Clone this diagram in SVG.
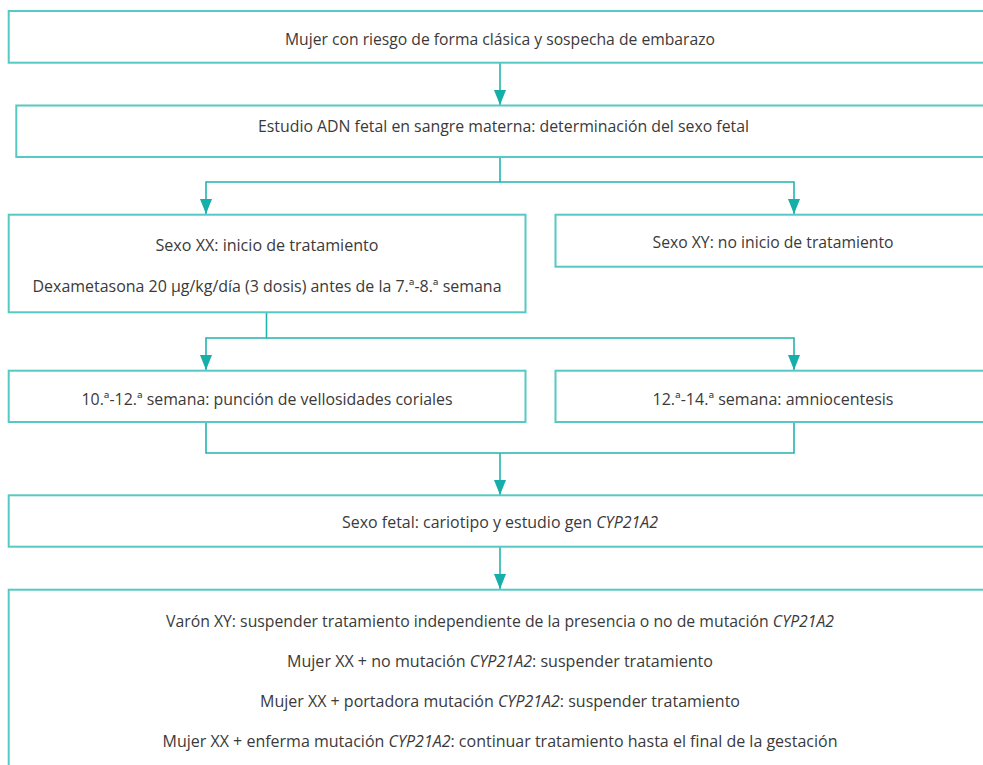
<svg xmlns="http://www.w3.org/2000/svg" width="983" height="765" viewBox="0 0 983 765">
<style>
.box{fill:#ffffff;stroke:#55c9c4;stroke-width:2}
.conn{fill:none;stroke:#22b5af;stroke-width:1.6}
.t{font-family:"Liberation Sans Narrow","Open Sans",sans-serif;font-size:16px;fill:#3a3a3a;text-anchor:middle}
.i{font-style:italic}
</style>
<defs>
<marker id="ah" markerUnits="userSpaceOnUse" markerWidth="15" markerHeight="12" refX="15" refY="6" orient="auto">
<path d="M0,0 L15,6 L0,12 z" fill="#16aea8"/>
</marker>
</defs>
<rect width="983" height="765" fill="#ffffff"/>
<g id="connectors">
<path class="conn" d="M500,62.7 V105" marker-end="url(#ah)"/>
<path class="conn" d="M500,157 V182 H206 V214" marker-end="url(#ah)"/>
<path class="conn" d="M500,182 H794 V214" marker-end="url(#ah)"/>
<path class="conn" d="M266.5,312.3 V338 H206 V370" marker-end="url(#ah)"/>
<path class="conn" d="M266.5,338 H794 V370" marker-end="url(#ah)"/>
<path class="conn" d="M206,422 V453 H794 V422"/>
<path class="conn" d="M500,453 V495" marker-end="url(#ah)"/>
<path class="conn" d="M500,547 V589" marker-end="url(#ah)"/>
</g>
<g id="n1">
<rect class="box" x="8.7" y="11" width="983" height="51.7"/>
<text class="t" x="500" y="45" textLength="430" lengthAdjust="spacingAndGlyphs">Mujer con riesgo de forma clásica y sospecha de embarazo</text>
</g>
<g id="n2">
<rect class="box" x="16.3" y="105.5" width="968" height="51.5"/>
<text class="t" x="503.5" y="132" textLength="491" lengthAdjust="spacingAndGlyphs">Estudio ADN fetal en sangre materna: determinación del sexo fetal</text>
</g>
<g id="n3">
<rect class="box" x="8.7" y="214.7" width="516.8" height="97.6"/>
<text class="t" x="267" y="251" textLength="223" lengthAdjust="spacingAndGlyphs">Sexo XX: inicio de tratamiento</text>
<text class="t" x="267" y="292" textLength="469" lengthAdjust="spacingAndGlyphs">Dexametasona 20 µg/kg/día (3 dosis) antes de la 7.ª-8.ª semana</text>
</g>
<g id="n4">
<rect class="box" x="555.5" y="214.7" width="436" height="52"/>
<text class="t" x="773" y="248" textLength="241" lengthAdjust="spacingAndGlyphs">Sexo XY: no inicio de tratamiento</text>
</g>
<g id="n5">
<rect class="box" x="8.7" y="370.7" width="516.8" height="51.3"/>
<text class="t" x="267" y="405" textLength="371" lengthAdjust="spacingAndGlyphs">10.ª-12.ª semana: punción de vellosidades coriales</text>
</g>
<g id="n6">
<rect class="box" x="555.5" y="370.7" width="436" height="51.3"/>
<text class="t" x="773" y="405" textLength="241" lengthAdjust="spacingAndGlyphs">12.ª-14.ª semana: amniocentesis</text>
</g>
<g id="n7">
<rect class="box" x="8.7" y="495.3" width="983" height="51.4"/>
<text class="t" x="500" y="528" textLength="316" lengthAdjust="spacingAndGlyphs">Sexo fetal: cariotipo y estudio gen <tspan class="i">CYP21A2</tspan></text>
</g>
<g id="n8">
<rect class="box" x="8.7" y="589.7" width="983" height="220"/>
<text class="t" x="500" y="627" textLength="668" lengthAdjust="spacingAndGlyphs">Varón XY: suspender tratamiento independiente de la presencia o no de mutación <tspan class="i">CYP21A2</tspan></text>
<text class="t" x="500" y="667" textLength="426" lengthAdjust="spacingAndGlyphs">Mujer XX + no mutación <tspan class="i">CYP21A2</tspan>: suspender tratamiento</text>
<text class="t" x="500" y="707" textLength="480" lengthAdjust="spacingAndGlyphs">Mujer XX + portadora mutación <tspan class="i">CYP21A2</tspan>: suspender tratamiento</text>
<text class="t" x="500" y="747" textLength="675" lengthAdjust="spacingAndGlyphs">Mujer XX + enferma mutación <tspan class="i">CYP21A2</tspan>: continuar tratamiento hasta el final de la gestación</text>
</g>
</svg>
